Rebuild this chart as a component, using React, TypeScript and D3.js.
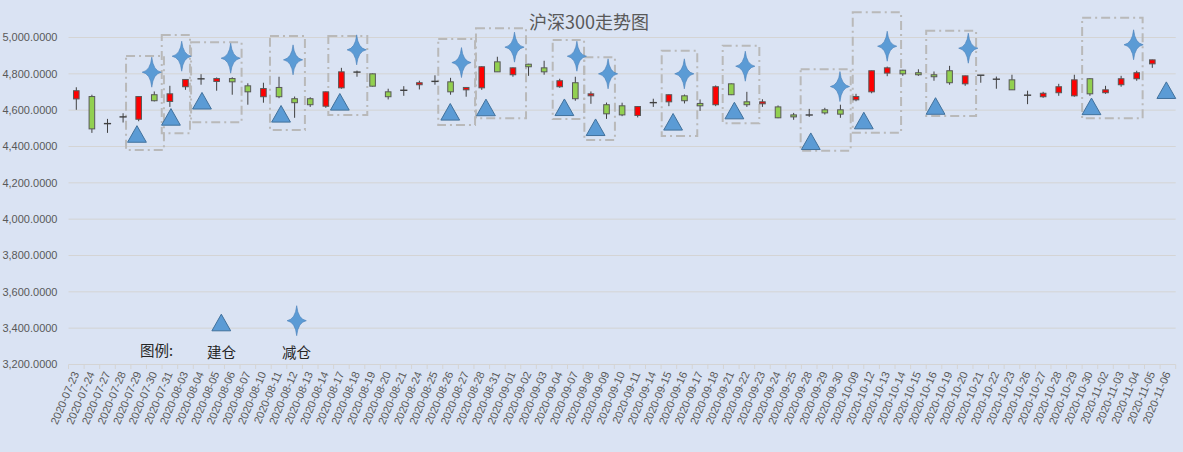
import React from 'react';
import * as d3 from 'd3';

const chartTitle = '沪深300走势图';

const dates = [
  '2020-07-23','2020-07-24','2020-07-27','2020-07-28','2020-07-29','2020-07-30','2020-07-31',
  '2020-08-03','2020-08-04','2020-08-05','2020-08-06','2020-08-07','2020-08-10','2020-08-11',
  '2020-08-12','2020-08-13','2020-08-14','2020-08-17','2020-08-18','2020-08-19','2020-08-20',
  '2020-08-21','2020-08-24','2020-08-25','2020-08-26','2020-08-27','2020-08-28','2020-08-31',
  '2020-09-01','2020-09-02','2020-09-03','2020-09-04','2020-09-07','2020-09-08','2020-09-09',
  '2020-09-10','2020-09-11','2020-09-14','2020-09-15','2020-09-16','2020-09-17','2020-09-18',
  '2020-09-21','2020-09-22','2020-09-23','2020-09-24','2020-09-25','2020-09-28','2020-09-29',
  '2020-09-30','2020-10-09','2020-10-12','2020-10-13','2020-10-14','2020-10-15','2020-10-16',
  '2020-10-19','2020-10-20','2020-10-21','2020-10-22','2020-10-23','2020-10-26','2020-10-27',
  '2020-10-28','2020-10-29','2020-10-30','2020-11-02','2020-11-03','2020-11-04','2020-11-05',
  '2020-11-06',
];

const openV: (number | null)[] = [
  4662, 4675, 4525, 4562, 4550, 4685, 4648, 4729, 4772, 4758, 4774, 4734, 4674, 4725,
  4663, 4663, 4622, 4723, 4809, 4800, 4701, 4709, 4740, 4758, 4756, 4712, 4723, 4866,
  4795, 4853, 4833, 4729, 4751, 4679, 4630, 4624, 4571, 4641, 4646, 4679, 4637, 4630,
  4745, 4646, 4635, 4618, 4574, 4573, 4602, 4602, 4657, 4701, 4804, 4820, 4806, 4795,
  4817, 4745, 4793, 4771, 4767, 4682, 4674, 4696, 4679, 4773, 4696, 4740, 4773, 4855,
  null,
];
const highV: (number | null)[] = [
  4726, 4685, 4552, 4583, 4677, 4703, 4734, 4771, 4798, 4780, 4781, 4748, 4751, 4784,
  4675, 4671, 4703, 4833, 4818, 4802, 4718, 4732, 4762, 4792, 4778, 4726, 4842, 4894,
  4835, 4855, 4872, 4773, 4784, 4703, 4642, 4641, 4622, 4663, 4687, 4686, 4659, 4736,
  4747, 4701, 4660, 4626, 4585, 4607, 4613, 4630, 4690, 4818, 4840, 4822, 4825, 4813,
  4844, 4790, 4793, 4785, 4795, 4707, 4701, 4745, 4795, 4775, 4734, 4789, 4817, 4878,
  null,
];
const lowV: (number | null)[] = [
  4602, 4475, 4475, 4532, 4539, 4648, 4618, 4712, 4740, 4707, 4685, 4630, 4641, 4666,
  4558, 4618, 4613, 4718, 4784, 4730, 4659, 4679, 4714, 4740, 4685, 4674, 4712, 4811,
  4784, 4789, 4795, 4723, 4652, 4635, 4552, 4567, 4560, 4618, 4622, 4637, 4596, 4622,
  4683, 4618, 4618, 4556, 4547, 4563, 4576, 4558, 4649, 4693, 4787, 4789, 4789, 4762,
  4740, 4734, 4751, 4718, 4712, 4633, 4668, 4679, 4674, 4679, 4690, 4729, 4762, 4833,
  null,
];
const closeV: (number | null)[] = [
  4707, 4497, 4527, 4564, 4675, 4652, 4690, 4769, 4773, 4774, 4756, 4701, 4719, 4674,
  4641, 4630, 4701, 4811, 4810, 4732, 4674, 4710, 4751, 4759, 4701, 4725, 4839, 4811,
  4833, 4839, 4811, 4762, 4663, 4690, 4580, 4574, 4620, 4642, 4685, 4652, 4624, 4729,
  4685, 4630, 4646, 4558, 4563, 4574, 4585, 4578, 4675, 4817, 4833, 4800, 4795, 4784,
  4751, 4789, 4792, 4770, 4712, 4683, 4693, 4729, 4767, 4690, 4712, 4773, 4806, 4877,
  null,
];

// 建仓 markers (position in category units, value)
const buyPos = [3.89, 6.07, 8.06, 13.13, 16.9, 23.98, 26.27, 31.3, 33.3, 38.27, 42.2, 47.1, 50.5, 55.1, 65.1, 69.9];
const buyVal = [4469, 4563, 4652, 4580, 4646, 4591, 4615, 4616, 4506, 4536, 4598, 4429, 4543, 4623, 4621, 4710];
// 减仓 markers
const sellPos = [4.84, 6.76, 9.9, 13.9, 17.98, 24.7, 28.1, 32.1, 34.1, 38.99, 42.9, 48.97, 52.0, 57.2, 67.8];
const sellVal = [4809, 4897, 4886, 4877, 4932, 4862, 4947, 4897, 4800, 4800, 4842, 4730, 4952, 4941, 4960];

// dashed holding-period boxes (category units, values)
const boxStart = [3.19, 5.48, 7.36, 12.42, 16.16, 23.21, 25.63, 30.55, 32.58, 37.54, 41.45, 46.45, 49.79, 54.5, 64.5];
const boxEnd = [5.62, 7.29, 10.6, 14.66, 18.66, 25.57, 28.84, 32.56, 34.54, 39.82, 43.8, 49.66, 52.89, 57.7, 68.38];
const boxTop = [4898, 5014, 4974, 5008, 5008, 4992, 5051, 4986, 4891, 4927, 4955, 4825, 5139, 5037, 5109];
const boxBottom = [4381, 4473, 4533, 4491, 4573, 4518, 4555, 4551, 4436, 4458, 4528, 4377, 4476, 4568, 4555];

const yTicks = [3200, 3400, 3600, 3800, 4000, 4200, 4400, 4600, 4800, 5000];

const legendTitle = '图例:';
const legendBuy = '建仓';
const legendSell = '减仓';

const W = 1183;
const H = 452;
const PL = 68.5;
const PR = 1175.7;
const PT = 37.5;
const PB = 364.5;

const starPath = 'M0,-15 Q1.4,-1.4 9.6,0 Q1.4,1.4 0,15 Q-1.4,1.4 -9.6,0 Q-1.4,-1.4 0,-15 Z';
const triPath = 'M0,-8.3 L9.4,8.3 L-9.4,8.3 Z';

const latin = '"Liberation Sans", Arial, sans-serif';
const cjk = '"Noto Sans CJK SC", "Noto Sans", sans-serif';

export default function App() {
  const x = d3.scaleBand<string>().domain(dates).range([PL, PR]).padding(0);
  const xi = d3.scaleLinear().domain([-0.5, dates.length - 0.5]).range([PL, PR]);
  const y = d3.scaleLinear().domain([3200, 5000]).range([PB, PT]);
  const bw = x.bandwidth();
  const fmt = d3.format(',.4f');
  const bodyW = 5.6;

  const candles = dates.map((d, i) => {
    const o = openV[i], h = highV[i], l = lowV[i], c = closeV[i];
    if (o == null || h == null || l == null || c == null) return null;
    const cx = (x(d) as number) + bw / 2;
    const yo = y(o), yc = y(c);
    const up = c >= o;
    const doji = Math.abs(yo - yc) < 1.2;
    return (
      <g key={d}>
        <line x1={cx} x2={cx} y1={y(h)} y2={y(l)} stroke="#404040" strokeWidth={1} />
        {doji ? (
          <line x1={cx - 3.6} x2={cx + 3.6} y1={(yo + yc) / 2} y2={(yo + yc) / 2} stroke="#404040" strokeWidth={1.4} />
        ) : (
          <rect
            x={cx - bodyW / 2}
            y={Math.min(yo, yc)}
            width={bodyW}
            height={Math.abs(yo - yc)}
            fill={up ? '#FF0000' : '#92D050'}
            stroke="#595959"
            strokeWidth={1}
          />
        )}
      </g>
    );
  });

  return (
    <div style={{ position: 'absolute', left: 0, top: 0, width: W, height: H }}>
      <svg width={W} height={H} style={{ display: 'block' }}>
        <rect x={0} y={0} width={W} height={H} fill="#DAE3F3" />
        <text x={589} y={29} textAnchor="middle" fontFamily={cjk} fontSize={18} fill="#595959">
          {chartTitle}
        </text>
        {yTicks.map((t) => (
          <g key={t}>
            <line x1={PL} x2={PR} y1={y(t)} y2={y(t)} stroke="#D4D4D4" strokeWidth={1} />
            <text x={57.5} y={y(t)} dy="0.35em" textAnchor="end" fontFamily={latin} fontSize={11} fill="#595959">
              {fmt(t)}
            </text>
          </g>
        ))}
        {d3.range(dates.length + 1).map((k) => (
          <line key={k} x1={PL + k * bw} x2={PL + k * bw} y1={PB} y2={PB + 4.5} stroke="#D4D4D4" strokeWidth={1} />
        ))}
        {dates.map((d) => {
          const cx = (x(d) as number) + bw / 2;
          return (
            <text
              key={d}
              transform={`translate(${cx - 0.5},${372}) rotate(-67)`}
              textAnchor="end"
              dy="0.35em"
              fontFamily={latin}
              fontSize={11}
              fill="#595959"
            >
              {d}
            </text>
          );
        })}
        {boxStart.map((s, i) => (
          <rect
            key={i}
            x={xi(s)}
            y={y(boxTop[i])}
            width={xi(boxEnd[i]) - xi(s)}
            height={y(boxBottom[i]) - y(boxTop[i])}
            fill="none"
            stroke="#B9B9B9"
            strokeWidth={2}
            strokeDasharray="9 4 2 4"
          />
        ))}
        {candles}
        {buyPos.map((p, i) => (
          <path key={'b' + i} d={triPath} transform={`translate(${xi(p)},${y(buyVal[i])})`} fill="#5B9BD5" stroke="#41719C" strokeWidth={1} />
        ))}
        {sellPos.map((p, i) => (
          <path key={'s' + i} d={starPath} transform={`translate(${xi(p)},${y(sellVal[i])})`} fill="#5B9BD5" stroke="#4A80B8" strokeWidth={0.6} />
        ))}
        <text x={140} y={356} fontFamily={cjk} fontSize={14.5} fill="#262626">{legendTitle}</text>
        <path d={triPath} transform="translate(221.3,322.5)" fill="#5B9BD5" stroke="#41719C" strokeWidth={1} />
        <text x={207} y={358} fontFamily={cjk} fontSize={14.5} fill="#262626">{legendBuy}</text>
        <path d={starPath} transform="translate(296.7,320.7)" fill="#5B9BD5" stroke="#4A80B8" strokeWidth={0.6} />
        <text x={282} y={358} fontFamily={cjk} fontSize={14.5} fill="#262626">{legendSell}</text>
      </svg>
    </div>
  );
}
